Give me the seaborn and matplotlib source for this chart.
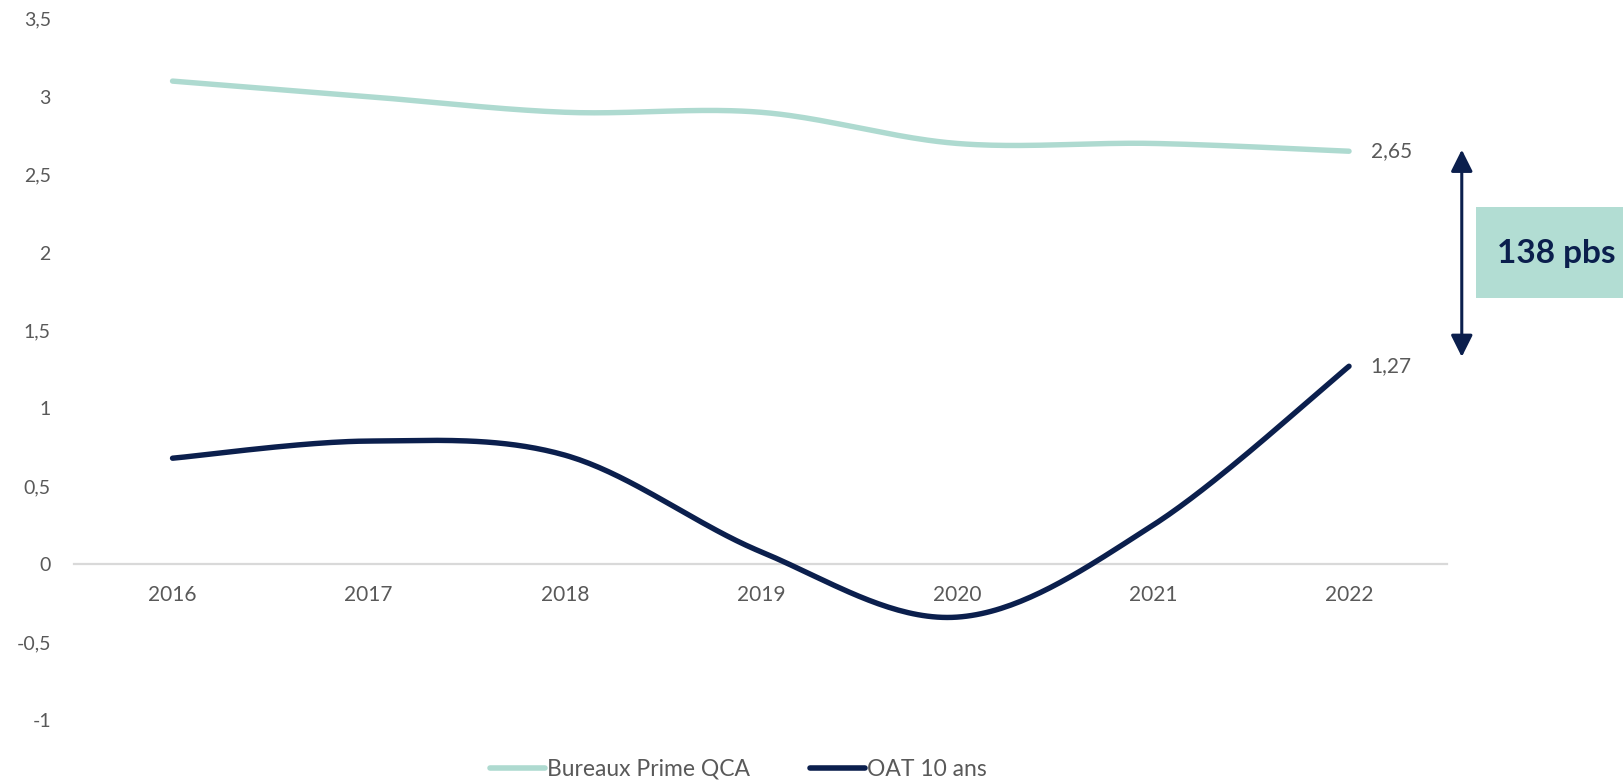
import numpy as np
import pandas as pd
import matplotlib
matplotlib.use("Agg")
import matplotlib.pyplot as plt
import seaborn as sns
from matplotlib.lines import Line2D
from matplotlib.patches import Rectangle

# Data
years = ["2016", "2017", "2018", "2019", "2020", "2021", "2022"]
bureaux = [3.10, 3.00, 2.90, 2.90, 2.70, 2.70, 2.65]
oat = [0.68, 0.79, 0.70, 0.08, -0.34, 0.25, 1.27]
y_ticks = [-1, -0.5, 0, 0.5, 1, 1.5, 2, 2.5, 3, 3.5]
series_names = ["Bureaux Prime QCA", "OAT 10 ans"]
spread_label = "138 pbs"

TEAL = "#AEDAD0"
NAVY = "#0B1F4D"
GREY_TXT = "#595959"

sns.set_theme(style="white")
plt.rcParams["font.family"] = ["Lato", "DejaVu Sans"]


def smooth(values, n=40):
    """Bezier smoothing through every point (Catmull-Rom control points)."""
    p = np.array(values, dtype=float)
    x = np.arange(len(p), dtype=float)
    pts = np.column_stack([x, p])
    ext = np.vstack([pts[0], pts, pts[-1]])
    out = []
    for i in range(len(pts) - 1):
        p0, p1, p2, p3 = ext[i], ext[i + 1], ext[i + 2], ext[i + 3]
        c1 = p1 + (p2 - p0) / 6.0
        c2 = p2 - (p3 - p1) / 6.0
        t = np.linspace(0, 1, n, endpoint=(i == len(pts) - 2))[:, None]
        seg = ((1 - t) ** 3) * p1 + 3 * ((1 - t) ** 2) * t * c1 + 3 * (1 - t) * t ** 2 * c2 + t ** 3 * p2
        out.append(seg)
    return np.vstack(out)


fig = plt.figure(figsize=(16.23, 7.82), dpi=100)
ax = fig.add_axes([0.0459, 0.0793, 0.8457, 0.8967])

frames = []
for name, vals in zip(series_names, [bureaux, oat]):
    s = smooth(vals)
    frames.append(pd.DataFrame({"x": s[:, 0], "y": s[:, 1], "serie": name}))
df = pd.concat(frames, ignore_index=True)

sns.lineplot(data=df, x="x", y="y", hue="serie", palette=[TEAL, NAVY],
             linewidth=3.9, sort=False, legend=False, ax=ax, zorder=3,
             solid_capstyle="round", estimator=None)

ax.set_xlim(-0.5, len(years) - 0.5)
ax.set_ylim(-1, 3.5)
ax.set_xticks(range(len(years)))
ax.set_xticklabels(years)
ax.set_yticks(y_ticks)
ax.set_yticklabels([f"{v:g}".replace(".", ",") for v in y_ticks])
ax.set_xlabel("")
ax.set_ylabel("")
for name in ("top", "right", "left"):
    ax.spines[name].set_visible(False)
# horizontal axis crosses at zero
ax.spines["bottom"].set_position(("data", 0))
ax.spines["bottom"].set_color("#D9D9D9")
ax.spines["bottom"].set_linewidth(1.6)
ax.spines["bottom"].set_zorder(1)
ax.tick_params(axis="y", length=0, pad=17, labelsize=14, labelcolor=GREY_TXT)
ax.tick_params(axis="x", length=0, pad=15, labelsize=15, labelcolor=GREY_TXT)

# End-point value labels
last = len(years) - 1
ax.text(last + 0.11, bureaux[-1], f"{bureaux[-1]:.2f}".replace(".", ","), fontsize=15,
        color=GREY_TXT, va="center", ha="left")
ax.text(last + 0.11, oat[-1], f"{oat[-1]:.2f}".replace(".", ","), fontsize=15,
        color=GREY_TXT, va="center", ha="left")

# Spread arrow and box
ax.annotate("", xy=(last + 0.575, bureaux[-1] + 0.01), xytext=(last + 0.575, 1.33),
            arrowprops=dict(arrowstyle="<|-|>,head_length=0.6,head_width=0.3", color=NAVY,
                            lw=2.2, mutation_scale=22, shrinkA=0, shrinkB=0),
            annotation_clip=False, zorder=5)
box = Rectangle((1476 / 1623, 484 / 782), 147 / 1623, 91 / 782, transform=fig.transFigure,
                facecolor="#B2DDD3", edgecolor="none", zorder=2)
fig.patches.append(box)
fig.text(1556 / 1623, 529 / 782, spread_label, fontsize=24, fontweight="bold", color=NAVY,
         ha="center", va="center")

handles = [Line2D([], [], color=TEAL, lw=4, solid_capstyle="round"),
           Line2D([], [], color=NAVY, lw=4, solid_capstyle="round")]
fig.legend(handles, series_names, loc="center", bbox_to_anchor=(0.455, 0.016), ncol=2,
           frameon=False, fontsize=16.5, handlelength=2.4, handletextpad=0.1,
           columnspacing=2.6, labelcolor=GREY_TXT)

fig.savefig("out.png", dpi=100)
